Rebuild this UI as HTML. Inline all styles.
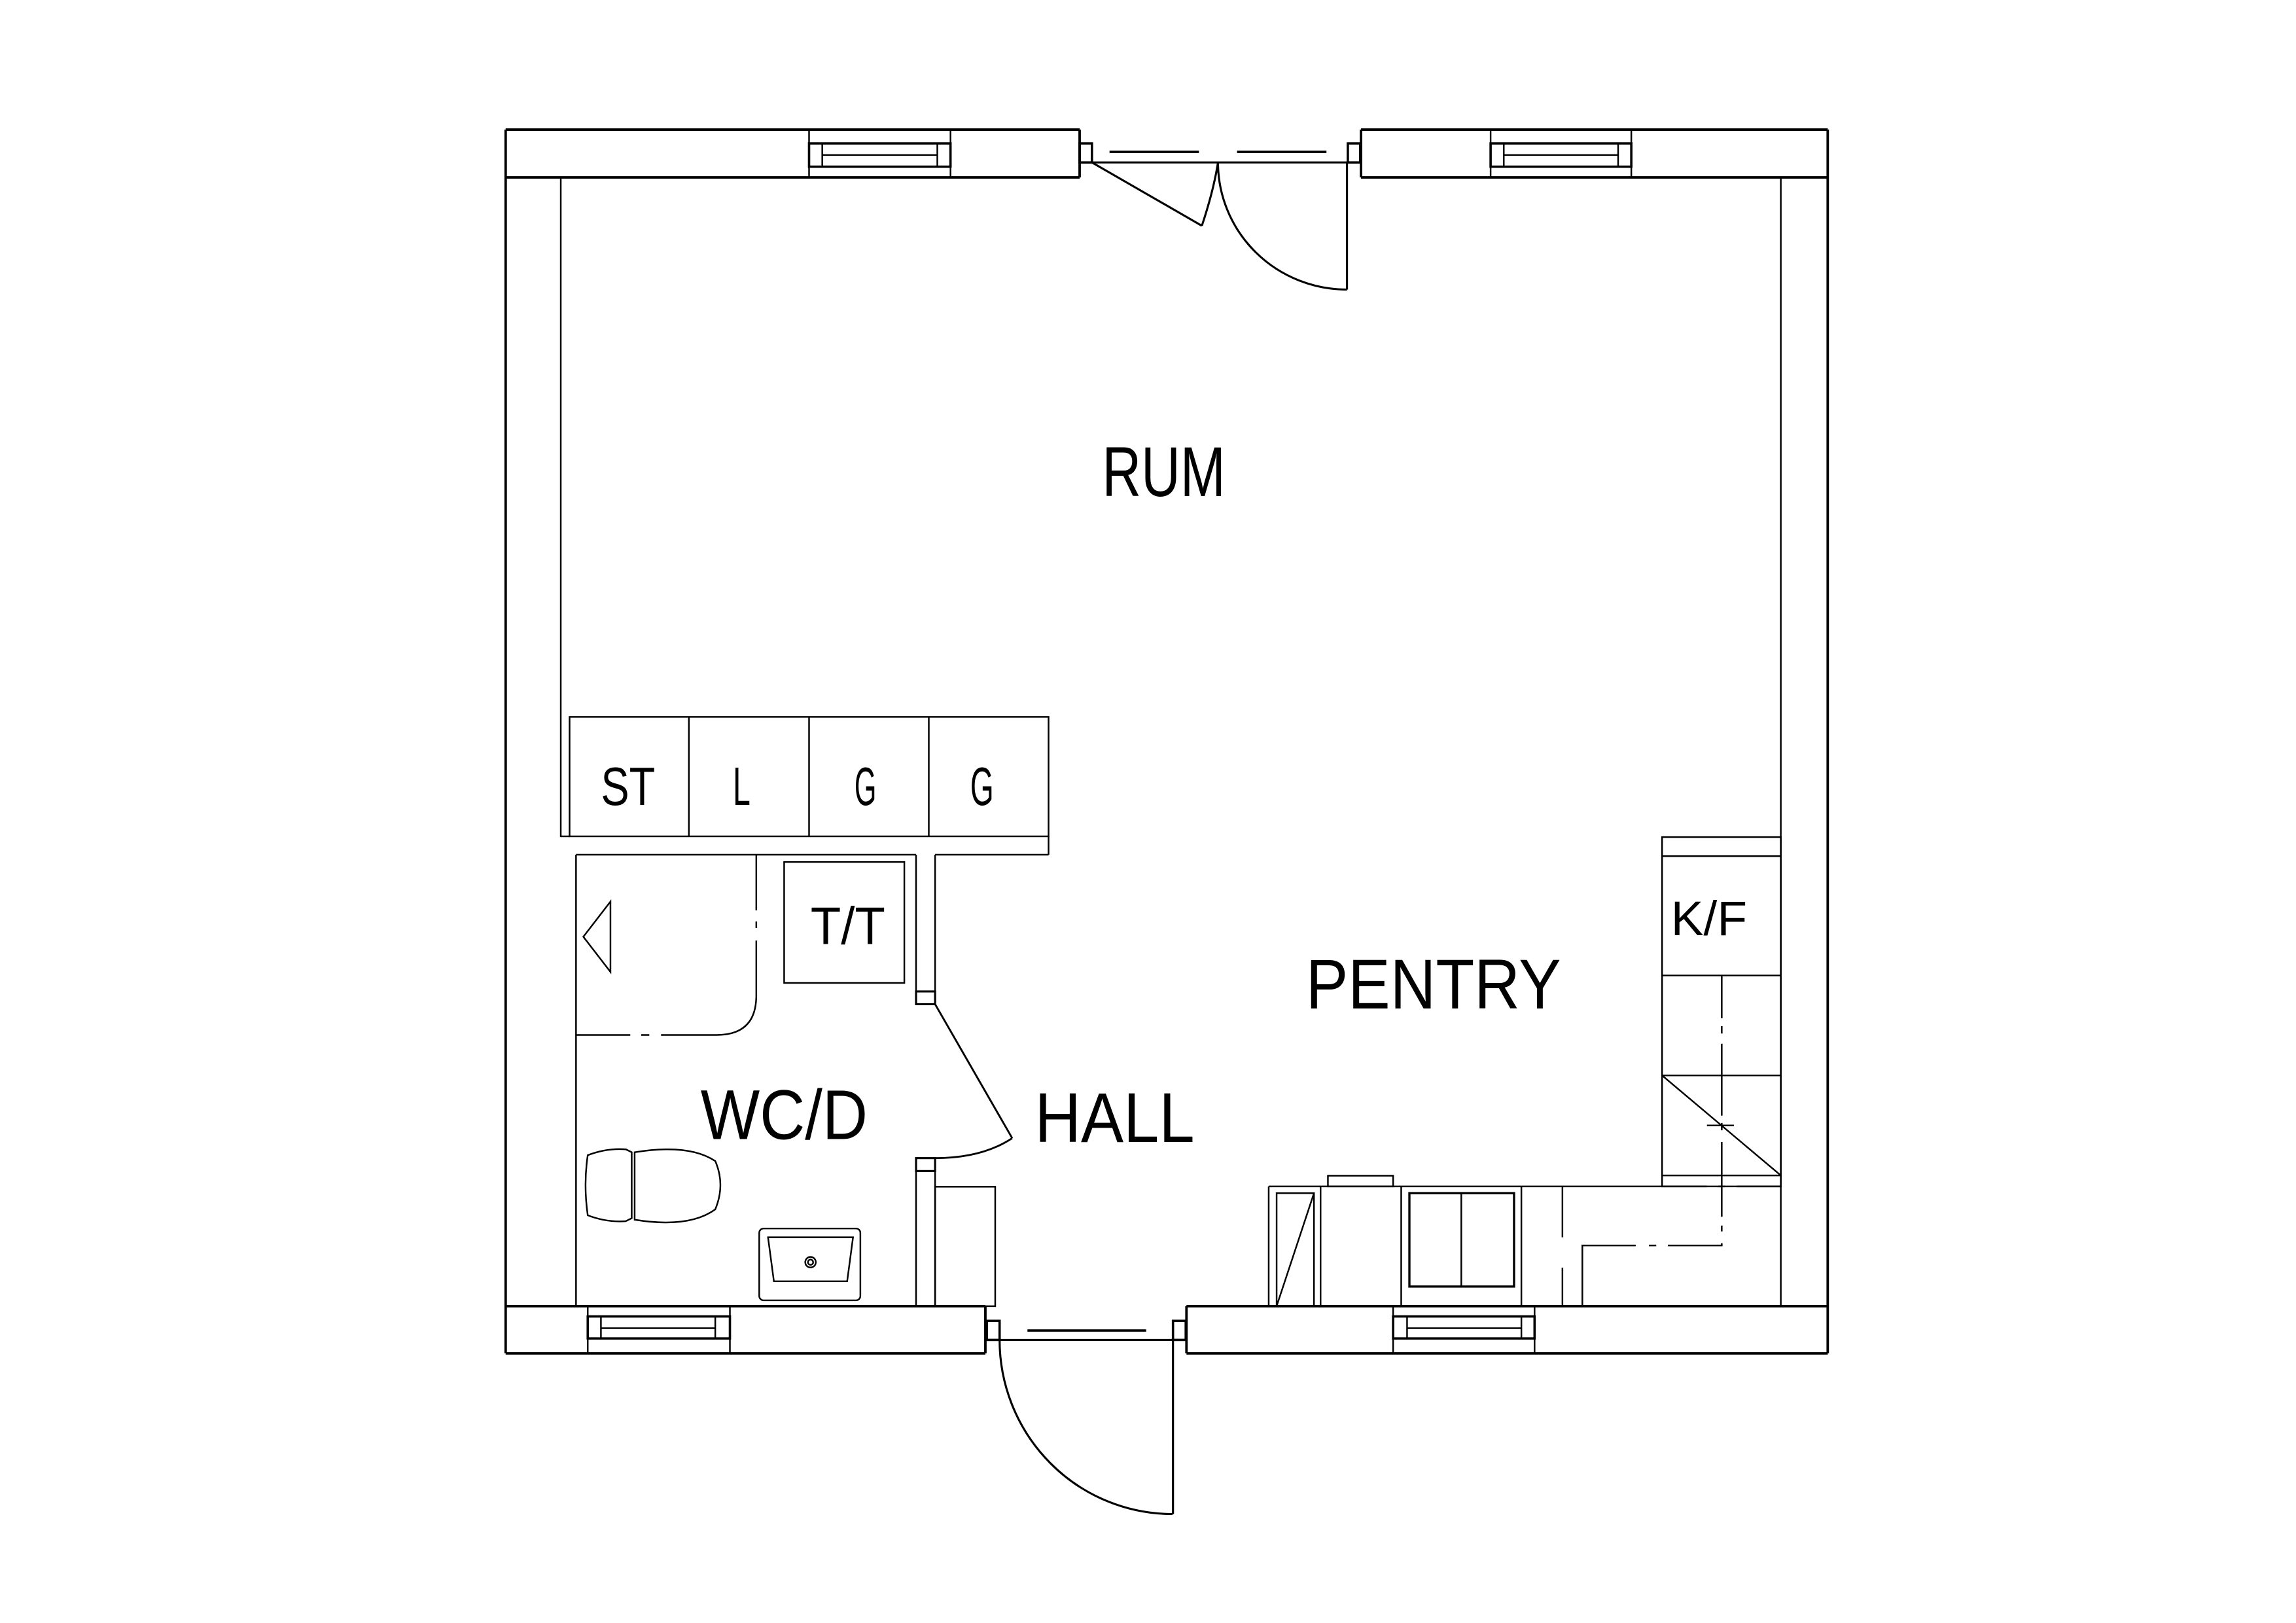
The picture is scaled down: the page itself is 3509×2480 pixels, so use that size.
<!DOCTYPE html>
<html><head><meta charset="utf-8"><style>
html,body{margin:0;padding:0;background:#fff;}
svg{display:block;}
text{font-family:"Liberation Sans",sans-serif;fill:#000;}
</style></head><body>
<svg width="3509" height="2480" viewBox="0 0 1566.5 1107.1" xmlns="http://www.w3.org/2000/svg">
<rect x="0" y="0" width="1566.5" height="1107.1" fill="#fff"/>
<g fill="none" stroke="#000" stroke-width="1.7" stroke-linecap="butt">
<!-- outer walls -->
<line x1="345" y1="88.4" x2="345" y2="923.2"/>
<line x1="1247" y1="88.4" x2="1247" y2="923.2"/>
<line x1="345" y1="88.4" x2="736.6" y2="88.4"/>
<line x1="928.6" y1="88.4" x2="1247" y2="88.4"/>
<line x1="345" y1="923.2" x2="672.3" y2="923.2"/>
<line x1="809.5" y1="923.2" x2="1247" y2="923.2"/>
<!-- inner top wall line -->
<line x1="345" y1="121" x2="736.6" y2="121"/>
<line x1="928.6" y1="121" x2="1247" y2="121"/>
<line x1="736.6" y1="88.4" x2="736.6" y2="121"/>
<line x1="928.6" y1="88.4" x2="928.6" y2="121"/>
<!-- bottom inner wall line -->
<line x1="345" y1="891" x2="672.3" y2="891"/>
<line x1="809.5" y1="891" x2="1247" y2="891"/>
<line x1="672.3" y1="891" x2="672.3" y2="923.2"/>
<line x1="809.5" y1="891" x2="809.5" y2="923.2"/>
</g>
<g fill="none" stroke="#000" stroke-width="1.1">
<!-- inner wall lines -->
<line x1="382.6" y1="121" x2="382.6" y2="571"/>
<line x1="1215" y1="121" x2="1215" y2="891"/>
<!-- top windows -->
<line x1="552" y1="88.4" x2="552" y2="121"/><line x1="648.5" y1="88.4" x2="648.5" y2="121"/>
<line x1="1017" y1="88.4" x2="1017" y2="121"/><line x1="1113" y1="88.4" x2="1113" y2="121"/>
<!-- bottom windows -->
<line x1="401" y1="891" x2="401" y2="923.2"/><line x1="498" y1="891" x2="498" y2="923.2"/>
<line x1="950.5" y1="891" x2="950.5" y2="923.2"/><line x1="1047" y1="891" x2="1047" y2="923.2"/>
</g>
<g fill="none" stroke="#000" stroke-width="1.6">
<rect x="552" y="97.8" width="96.5" height="15.9"/>
<rect x="1017" y="97.8" width="96" height="15.9"/>
<rect x="401" y="898" width="97" height="15"/>
<rect x="950.5" y="898" width="96.5" height="15"/>
<!-- jambs -->
<rect x="736.6" y="97.8" width="8.4" height="13"/>
<rect x="919.6" y="97.8" width="8.4" height="13"/>
<rect x="673.3" y="901" width="8.7" height="13"/>
<rect x="800.3" y="901" width="8.7" height="13"/>
<!-- dashes in door openings -->
<line x1="757" y1="103.6" x2="818" y2="103.6"/>
<line x1="844" y1="103.6" x2="905" y2="103.6"/>
<line x1="701" y1="907.6" x2="782" y2="907.6"/>
</g>
<g fill="none" stroke="#000" stroke-width="1.1">
<line x1="561" y1="97.8" x2="561" y2="113.7"/><line x1="639.5" y1="97.8" x2="639.5" y2="113.7"/>
<line x1="561" y1="105.7" x2="639.5" y2="105.7"/>
<line x1="1026" y1="97.8" x2="1026" y2="113.7"/><line x1="1104" y1="97.8" x2="1104" y2="113.7"/>
<line x1="1026" y1="105.7" x2="1104" y2="105.7"/>
<line x1="410" y1="898" x2="410" y2="913"/><line x1="488" y1="898" x2="488" y2="913"/>
<line x1="410" y1="906" x2="488" y2="906"/>
<line x1="960" y1="898" x2="960" y2="913"/><line x1="1038" y1="898" x2="1038" y2="913"/>
<line x1="960" y1="906" x2="1038" y2="906"/>
</g>
<g fill="none" stroke="#000" stroke-width="1.4">
<!-- top door -->
<line x1="745" y1="110.8" x2="919.6" y2="110.8"/>
<line x1="745" y1="110.8" x2="820" y2="154"/>
<path d="M820,154 Q828,130 831,110.8"/>
<path d="M831,110.8 A88,86.7 0 0 0 919,197.5"/>
<line x1="919" y1="110.8" x2="919" y2="197.5"/>
<!-- bottom door -->
<line x1="682" y1="914" x2="800.3" y2="914"/>
<path d="M682,914 A118,118.8 0 0 0 800,1032.8"/>
<line x1="800.3" y1="914" x2="800.3" y2="1032.8"/>
</g>
<g fill="none" stroke="#000" stroke-width="1.1">
<!-- wardrobe row -->
<rect x="388.6" y="489" width="326.8" height="81.5"/>
<line x1="470" y1="489" x2="470" y2="570.5"/>
<line x1="552" y1="489" x2="552" y2="570.5"/>
<line x1="633.7" y1="489" x2="633.7" y2="570.5"/>
<line x1="382.6" y1="570.5" x2="388.6" y2="570.5"/>
<line x1="715.4" y1="570.5" x2="715.4" y2="583"/>
<line x1="638" y1="583" x2="715.4" y2="583"/>
<!-- WC walls -->
<line x1="393" y1="583" x2="393" y2="891"/>
<line x1="393" y1="583" x2="625" y2="583"/>
<line x1="625" y1="583" x2="625" y2="676.3"/>
<line x1="638" y1="583" x2="638" y2="676.3"/>
<rect x="625" y="676.3" width="13" height="8.7" stroke-width="1.4"/>
<rect x="625" y="790" width="13" height="8.8" stroke-width="1.4"/>
<line x1="625" y1="798.8" x2="625" y2="891"/>
<line x1="638" y1="798.8" x2="638" y2="891"/>
<rect x="638" y="809.5" width="41" height="81.5"/>
<!-- WC door -->
<line x1="638" y1="685" x2="690.6" y2="776.4" stroke-width="1.3"/>
<path d="M690.6,776.4 Q670,790 638,790" stroke-width="1.3"/>
<!-- shower -->
<path d="M516,583 V621 M516,628.6 V633 M516,641.6 V679 Q516,706 489,706 H451 M443,706 H437.5 M430,706 H393"/>
<polygon points="416.5,615 398,639 416.5,663"/>
<rect x="535" y="588" width="82" height="82.5"/>
<!-- toilet -->
<path d="M401,788 Q398,808 401,829 Q414,834 427,833 L431,831 L431,786 L427,784 Q414,783 401,788 Z"/>
<path d="M433,786 Q470,780 488,792 Q495,808 488,825 Q470,838 433,832 Z"/>
<!-- sink -->
<rect x="518" y="838" width="69" height="49" rx="3"/>
<path d="M524,844 H582 L578,874 H528 Z"/>
<circle cx="553" cy="861" r="3.6"/><circle cx="553" cy="861" r="1.8"/>
<!-- kitchen column -->
<rect x="1134" y="571" width="81" height="238.3"/>
<line x1="1134" y1="584" x2="1215" y2="584"/>
<line x1="1134" y1="665.4" x2="1215" y2="665.4"/>
<line x1="1134" y1="733.6" x2="1215" y2="733.6"/>
<line x1="1134" y1="801.8" x2="1215" y2="801.8"/>
<line x1="1134" y1="733.6" x2="1215" y2="801.8"/>
<line x1="1164.6" y1="767.7" x2="1183" y2="767.7"/>
<path d="M1174.7,665.4 V694.6 M1174.7,700 V705 M1174.7,712 V761 M1174.7,766 V771 M1174.7,779 V830 M1174.7,836 V840 M1174.7,848 V849.6 H1138 M1130,849.6 H1125 M1116,849.6 H1079.6 V891"/>
<!-- counter -->
<line x1="865.6" y1="809.3" x2="1164.6" y2="809.3"/>
<line x1="1185" y1="809.3" x2="1215" y2="809.3"/>
<line x1="1172" y1="809.3" x2="1177" y2="809.3"/>
<line x1="865.6" y1="809.3" x2="865.6" y2="891"/>
<rect x="871" y="813.9" width="25.5" height="77.1"/>
<line x1="871" y1="891" x2="896.5" y2="813.9"/>
<line x1="901" y1="809.3" x2="901" y2="891"/>
<rect x="906" y="802" width="44.5" height="7.3"/>
<line x1="956" y1="809.3" x2="956" y2="891"/>
<rect x="961.6" y="813.9" width="71.4" height="63.7" stroke-width="1.5"/>
<line x1="997" y1="813.9" x2="997" y2="877.6"/>
<line x1="1038" y1="809.3" x2="1038" y2="891"/>
<path d="M1066,809.3 V844 M1066,864.7 V891"/>
</g>
<!-- labels -->
<text x="752" y="338.4" font-size="48" textLength="84" lengthAdjust="spacingAndGlyphs">RUM</text>
<text x="891" y="688" font-size="48" textLength="174" lengthAdjust="spacingAndGlyphs">PENTRY</text>
<text x="706" y="779" font-size="48" textLength="109" lengthAdjust="spacingAndGlyphs">HALL</text>
<text x="478" y="777" font-size="48" textLength="114" lengthAdjust="spacingAndGlyphs">WC/D</text>
<text x="410" y="549" font-size="37" textLength="37" lengthAdjust="spacingAndGlyphs">ST</text>
<text x="500" y="549" font-size="37" textLength="12" lengthAdjust="spacingAndGlyphs">L</text>
<text x="583" y="549" font-size="37" textLength="15" lengthAdjust="spacingAndGlyphs">G</text>
<text x="662" y="549" font-size="37" textLength="16" lengthAdjust="spacingAndGlyphs">G</text>
<text x="553" y="644" font-size="36" textLength="51" lengthAdjust="spacingAndGlyphs">T/T</text>
<text x="1140" y="638" font-size="33" textLength="52" lengthAdjust="spacingAndGlyphs">K/F</text>
</svg>
</body></html>
